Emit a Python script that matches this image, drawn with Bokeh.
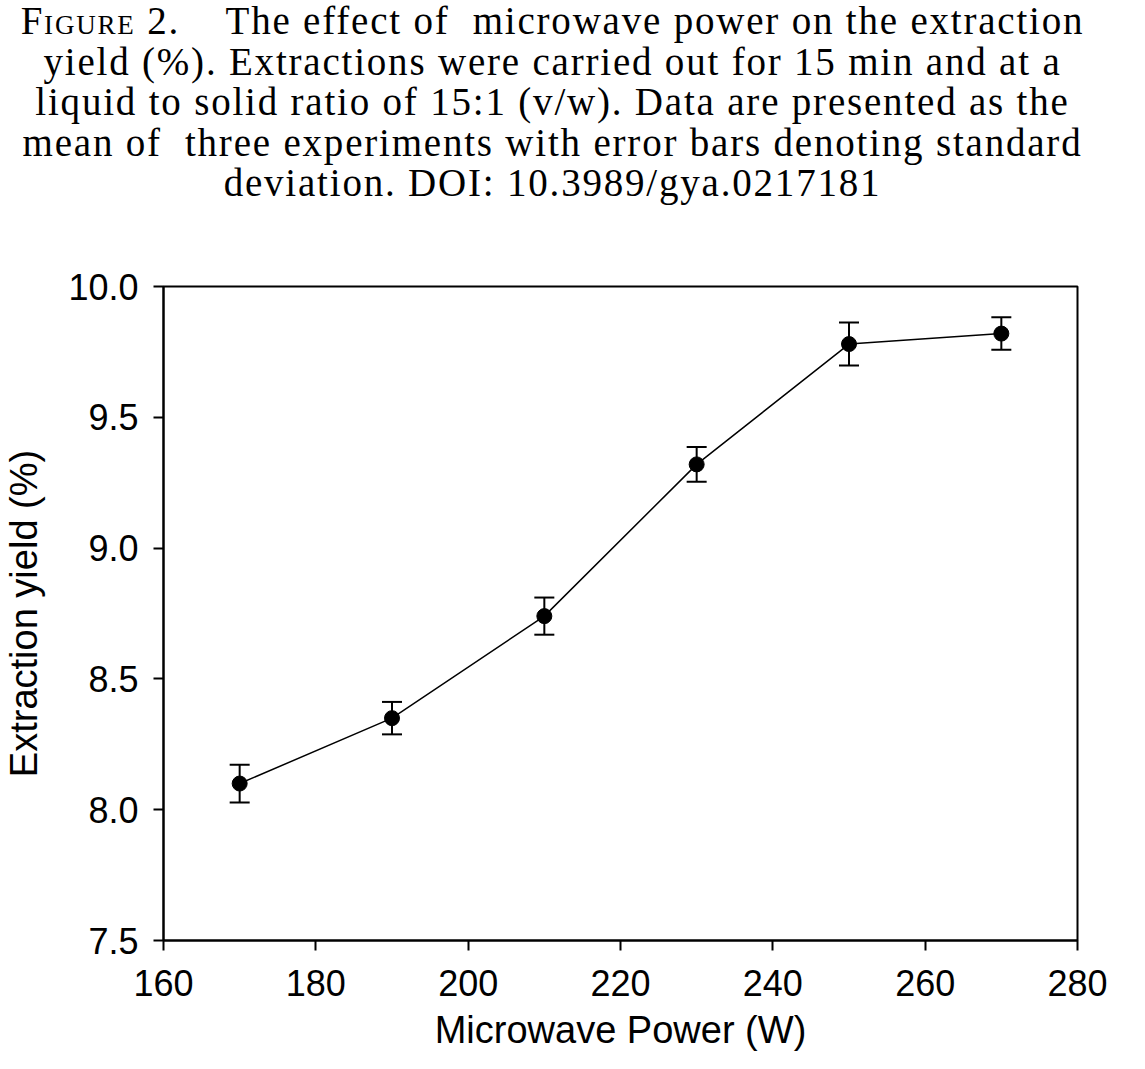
from bokeh.plotting import figure
from bokeh.models import Div, Whisker, TeeHead, ColumnDataSource, FixedTicker, PrintfTickFormatter, Range1d
from bokeh.layouts import column
from bokeh.embed import file_html
from bokeh.resources import INLINE

# Data
power = [170, 190, 210, 230, 250, 270]            # Microwave power (W)
yield_pct = [8.10, 8.35, 8.74, 9.32, 9.78, 9.82]  # Extraction yield (%)
yield_sd = [0.072, 0.062, 0.071, 0.066, 0.082, 0.062]

x_ticks = [160, 180, 200, 220, 240, 260, 280]
y_ticks = [7.5, 8.0, 8.5, 9.0, 9.5, 10.0]

caption_lines = [
    '<span style="font-variant: small-caps;">Figure</span> 2.&nbsp;&nbsp;&nbsp; The effect of&nbsp; microwave power on the extraction',
    'yield (%). Extractions were carried out for 15 min and at a',
    'liquid to solid ratio of 15:1 (v/w). Data are presented as the',
    'mean of&nbsp; three experiments with error bars denoting standard',
    'deviation. DOI: 10.3989/gya.0217181',
]

caption = Div(
    text=('<div style="font-family: \'Liberation Serif\', \'Times New Roman\', serif; '
          'font-size: 39px; line-height: 40.5px; letter-spacing: 1.8px; text-align: center; color: #000; '
          'width: 1105px; margin-top: 1px; white-space: nowrap;">' + '<br>'.join(caption_lines) + '</div>'),
    width=1129, height=222, margin=(0, 0, 0, 0),
)

src = ColumnDataSource(data=dict(
    x=power,
    y=yield_pct,
    upper=[v + s for v, s in zip(yield_pct, yield_sd)],
    lower=[v - s for v, s in zip(yield_pct, yield_sd)],
))

p = figure(width=1129, height=831, output_backend="svg", toolbar_location=None,
           x_range=Range1d(160, 280), y_range=Range1d(7.5, 10.0),
           min_border_left=162, min_border_right=52, min_border_top=64, min_border_bottom=110,
           margin=(0, 0, 0, 0))

p.line("x", "y", source=src, line_color="black", line_width=1.5)
w = Whisker(source=src, base="x", upper="upper", lower="lower", dimension="height",
            line_color="black", line_width=2,
            upper_head=TeeHead(size=20, line_color="black", line_width=2),
            lower_head=TeeHead(size=20, line_color="black", line_width=2))
p.add_layout(w)
p.scatter("x", "y", source=src, size=15, fill_color="black", line_color="black")

p.xgrid.visible = False
p.ygrid.visible = False
p.outline_line_color = "black"
p.outline_line_width = 2
p.background_fill_color = "white"
p.border_fill_color = "white"

for ax in (p.xaxis[0], p.yaxis[0]):
    ax.axis_line_width = 2
    ax.axis_line_color = "black"
    ax.major_tick_line_width = 2
    ax.major_tick_line_color = "black"
    ax.major_tick_out = 10
    ax.major_tick_in = 0
    ax.minor_tick_line_color = None
    ax.major_label_text_font = "Liberation Sans"
    ax.major_label_text_font_size = "36px"
    ax.major_label_text_color = "black"
    ax.axis_label_text_font = "Liberation Sans"
    ax.axis_label_text_font_size = "38px"
    ax.axis_label_text_font_style = "normal"
    ax.axis_label_text_color = "black"

p.xaxis[0].ticker = FixedTicker(ticks=x_ticks)
p.yaxis[0].ticker = FixedTicker(ticks=y_ticks)
p.yaxis[0].formatter = PrintfTickFormatter(format="%.1f")
p.xaxis[0].axis_label = "Microwave Power (W)"
p.yaxis[0].axis_label = "Extraction yield (%)"
p.xaxis[0].major_label_standoff = 19
p.yaxis[0].major_label_standoff = 15
p.xaxis[0].axis_label_standoff = 10
p.yaxis[0].axis_label_standoff = 20

layout = column(caption, p, spacing=0, margin=(0, 0, 0, 0))
open("out.html", "w").write(file_html(layout, INLINE))
